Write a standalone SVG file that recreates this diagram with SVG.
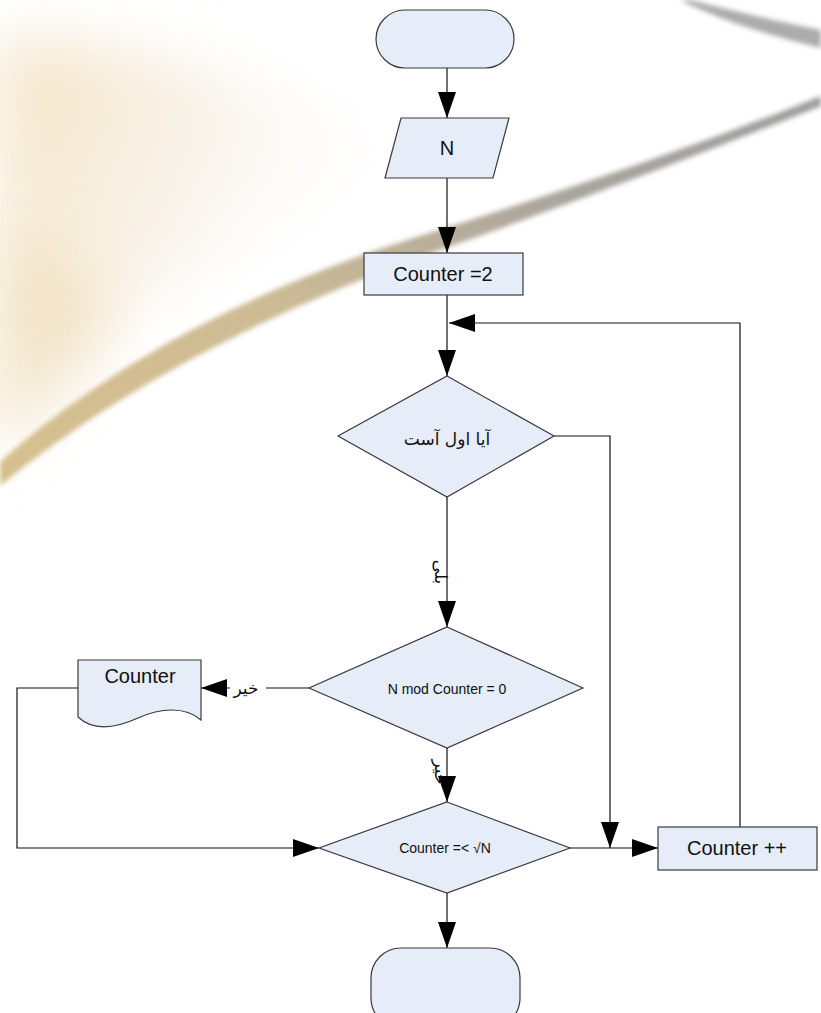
<svg xmlns="http://www.w3.org/2000/svg" width="821" height="1013" viewBox="0 0 821 1013">
  <style>
    .shape { fill: #e6ecf8; stroke: #3a3a3a; stroke-width: 1.2; }
    .wire-arrow { fill: none; stroke: #111; stroke-width: 1.2; marker-end: url(#head); }
    .lat { font-family: "Liberation Sans", Arial, sans-serif; fill: #111; text-anchor: middle; dominant-baseline: central; }
    .fa { font-family: "DejaVu Sans", "Noto Sans", sans-serif; fill: #111; text-anchor: middle; dominant-baseline: central; }
  </style>
  <defs>
    <marker id="head" markerUnits="userSpaceOnUse" markerWidth="26" markerHeight="18" refX="26" refY="9" orient="auto">
      <path d="M0,0 L26,9 L0,18 Z" fill="#000"/>
    </marker>
    <linearGradient id="haze" x1="0" y1="0.2" x2="0.9" y2="0.6">
      <stop offset="0" stop-color="#f1e0bd" stop-opacity="0.85"/>
      <stop offset="0.45" stop-color="#f5eadb" stop-opacity="0.6"/>
      <stop offset="1" stop-color="#ffffff" stop-opacity="0"/>
    </linearGradient>
    <linearGradient id="band" x1="0" y1="1" x2="1" y2="0">
      <stop offset="0" stop-color="#d6c08c"/>
      <stop offset="0.4" stop-color="#cdbb95"/>
      <stop offset="0.7" stop-color="#aaa59d"/>
      <stop offset="1" stop-color="#9c9c9c"/>
    </linearGradient>
    <filter id="soft" x="-10%" y="-10%" width="120%" height="120%">
      <feGaussianBlur stdDeviation="2.5"/>
    </filter>
    <filter id="softer" x="-30%" y="-30%" width="160%" height="160%">
      <feGaussianBlur stdDeviation="30"/>
    </filter>
  </defs>

  <!-- soft backdrop: warm haze with a sweeping band -->
  <rect width="821" height="1013" fill="#ffffff"/>
  <g id="backdrop">
    <path d="M0,40 C150,40 300,90 420,160 C330,190 180,270 90,350 C50,390 20,430 0,460 Z" fill="url(#haze)" filter="url(#softer)"/>
    <path d="M0,230 C50,230 90,270 110,330 C70,370 30,410 0,450 Z" fill="#eedcb4" opacity="0.55" filter="url(#softer)"/>
    <path d="M0,462 C90,380 230,295 420,236 C560,192 700,145 821,96 L821,106 C700,154 570,204 440,250 C260,314 110,395 0,486 Z" fill="url(#band)" filter="url(#soft)"/>
    <path d="M690,0 C730,10 780,22 821,30 L821,48 C770,36 720,20 680,0 Z" fill="#ababab" filter="url(#soft)"/>
  </g>

  <!-- connectors -->
  <g id="connectors">
    <path class="wire-arrow" d="M447,68 V118"/>
    <path class="wire-arrow" d="M447,178 V253"/>
    <path class="wire-arrow" d="M447,295 V376"/>
    <path class="wire-arrow" d="M740,827 V323 H449"/>
    <path class="wire-arrow" d="M554,436 H610 V848"/>
    <path class="wire-arrow" d="M447,497 V627"/>
    <path class="wire-arrow" d="M309,688 H201"/>
    <path class="wire-arrow" d="M78,688 H17 V848 H319"/>
    <path class="wire-arrow" d="M447,748 V802"/>
    <path class="wire-arrow" d="M570,848 H658"/>
    <path class="wire-arrow" d="M447,893 V948"/>
    <rect x="230" y="678" width="36" height="20" fill="#ffffff"/>
    <text class="fa" font-size="17" transform="translate(441,572) rotate(90)">بلی</text>
    <text class="fa" font-size="17" x="246" y="688">خیر</text>
    <text class="fa" font-size="17" transform="translate(441,772) rotate(90)">خیر</text>
  </g>

  <g id="start">
    <rect class="shape" x="376" y="10" width="138" height="58" rx="29" ry="29"/>
  </g>

  <g id="input-n">
    <polygon class="shape" points="401,118 509,118 493,178 385,178"/>
    <text class="lat" x="447" y="148" font-size="20">N</text>
  </g>

  <g id="init-counter">
    <rect class="shape" x="364" y="253" width="159" height="42"/>
    <text class="lat" x="443" y="274" font-size="20">Counter =2</text>
  </g>

  <g id="is-prime">
    <polygon class="shape" points="447,376 554,436 447,497 338,436"/>
    <text class="fa" x="447" y="439" font-size="17">آیا اول آست</text>
  </g>

  <g id="mod-check">
    <polygon class="shape" points="447,627 583,688 447,748 309,688"/>
    <text class="lat" x="447" y="689" font-size="14">N mod Counter = 0</text>
  </g>

  <g id="print-counter">
    <path class="shape" d="M78,660 H201 V720 C185,706 160,708 138,718 C116,728 94,732 78,717 Z"/>
    <text class="lat" x="140" y="676" font-size="20">Counter</text>
  </g>

  <g id="loop-check">
    <polygon class="shape" points="447,802 570,848 447,893 319,848"/>
    <text class="lat" x="445" y="848" font-size="14">Counter =&lt; √N</text>
  </g>

  <g id="increment">
    <rect class="shape" x="658" y="827" width="159" height="43"/>
    <text class="lat" x="737" y="848" font-size="20">Counter ++</text>
  </g>

  <g id="end">
    <rect class="shape" x="371" y="948" width="149" height="80" rx="30" ry="30"/>
  </g>
</svg>
